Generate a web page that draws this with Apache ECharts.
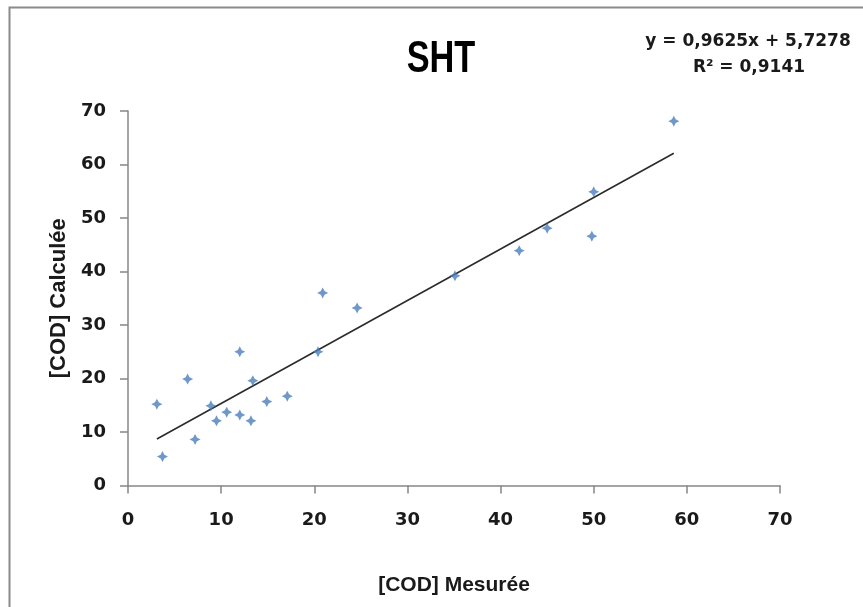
<!DOCTYPE html>
<html>
<head>
<meta charset="utf-8">
<script src="https://cdn.jsdelivr.net/npm/echarts@6/dist/echarts.min.js"></script>
<style>
html,body{margin:0;padding:0;background:#fff;}
#chart{width:863px;height:607px;}
</style>
</head>
<body>
<div id="chart"></div>
<script>
// Data
const measured   = [3.1, 3.7, 6.4, 7.2, 8.9, 9.5, 10.6, 12.0, 12.0, 13.2, 13.4, 14.9, 17.1, 20.4, 20.9, 24.6, 35.1, 42.0, 45.0, 49.8, 50.0, 58.6];
const calculated = [15.2, 5.4, 19.9, 8.6, 14.9, 12.1, 13.7, 25.0, 13.2, 12.1, 19.6, 15.7, 16.7, 25.0, 36.0, 33.2, 39.2, 43.9, 48.1, 46.6, 54.9, 68.1];
const trendX = [3.1, 58.6];
const trendY = [8.7, 62.1];
const equationLines = ['y = 0,9625x + 5,7278', 'R\u00B2 = 0,9141'];
const titleText = 'SHT';
const xName = '[COD] Mesurée';
const yName = '[COD] Calculée';

const points = measured.map((x, i) => [x, calculated[i]]);
const trend = trendX.map((x, i) => [x, trendY[i]]);

const chart = echarts.init(document.getElementById('chart'), null, {renderer: 'canvas'});
const axisFont = "'DejaVu Sans', sans-serif";
const nameFont = "'Liberation Sans', Arial, sans-serif";
const star = 'path://M5,0 L6.7,3.3 L10,5 L6.7,6.7 L5,10 L3.3,6.7 L0,5 L3.3,3.3 Z';

chart.setOption({
  backgroundColor: '#fff',
  animation: false,
  grid: {left: 128, right: 83, top: 111, bottom: 121.5, containLabel: false, outerBoundsMode: 'none'},
  xAxis: {
    type: 'value', min: 0, max: 70, interval: 10,
    name: xName, nameLocation: 'middle', nameGap: 89,
    nameTextStyle: {fontFamily: nameFont, fontSize: 21, fontWeight: 'bold', color: '#1a1a1a'},
    axisLine: {show: true, lineStyle: {color: '#868686', width: 1.5}},
    axisTick: {show: true, length: 8, lineStyle: {color: '#868686', width: 1.5}},
    axisLabel: {margin: 26, fontFamily: axisFont, fontSize: 18, fontWeight: 'bold', color: '#1a1a1a'},
    splitLine: {show: false}
  },
  yAxis: {
    type: 'value', min: 0, max: 70, interval: 10,
    name: yName, nameLocation: 'middle', nameGap: 57, nameRotate: 90,
    nameTextStyle: {fontFamily: nameFont, fontSize: 22, fontWeight: 'bold', color: '#1a1a1a'},
    axisLine: {show: true, lineStyle: {color: '#868686', width: 1.5}},
    axisTick: {show: true, length: 8, lineStyle: {color: '#868686', width: 1.5}},
    axisLabel: {margin: 22, fontFamily: axisFont, fontSize: 18, fontWeight: 'bold', color: '#1a1a1a'},
    splitLine: {show: false}
  },
  graphic: [
    {type: 'rect', left: 7, top: 5, silent: true, z: -10,
     shape: {width: 900, height: 700},
     style: {fill: 'none', stroke: '#8a8a8a', lineWidth: 2}},
    {type: 'text', x: 441, y: 60, scaleX: 0.78, silent: true,
     style: {text: titleText, font: "bold 44px 'Liberation Sans', Arial, sans-serif", fill: '#000', textAlign: 'center', textVerticalAlign: 'middle'}},
    {type: 'text', x: 748, y: 42, silent: true,
     style: {text: equationLines[0], font: "bold 17px 'DejaVu Sans', sans-serif", fill: '#1a1a1a', textAlign: 'center', textVerticalAlign: 'middle'}},
    {type: 'text', x: 749, y: 68, silent: true,
     style: {text: equationLines[1], font: "bold 17px 'DejaVu Sans', sans-serif", fill: '#1a1a1a', textAlign: 'center', textVerticalAlign: 'middle'}}
  ],
  series: [
    {
      type: 'line', data: trend, symbol: 'none', silent: true,
      lineStyle: {color: '#2b2b2b', width: 1.6}, z: 1
    },
    {
      type: 'scatter', data: points, symbol: star, symbolSize: [11, 11],
      itemStyle: {color: '#4a7ebb'}, z: 2
    }
  ]
});
</script>
</body>
</html>
